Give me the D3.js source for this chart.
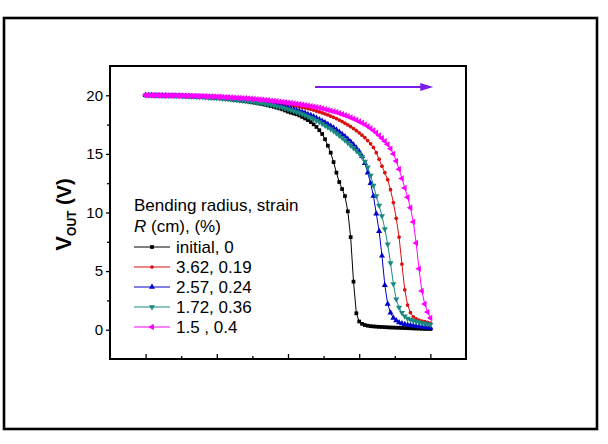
<!DOCTYPE html>
<html>
<head>
<meta charset="utf-8">
<script src="https://cdn.jsdelivr.net/npm/d3@7"></script>
<style>
  html, body { margin: 0; padding: 0; background: #fff; }
  svg { display: block; font-family: "Liberation Sans", Arial, sans-serif; }
</style>
</head>
<body>
<svg id="chart" width="608" height="444"></svg>
<script>
// ---- data (x = input voltage, 0..20 step 0.2) ----
const xStart = 0, xStep = 0.2;
const xTickValues = [0, 5, 10, 15, 20];
const yTickValues = [0, 5, 10, 15, 20];
const yTickLabels = ["0", "5", "10", "15", "20"];

const seriesNames = ["initial, 0", "3.62, 0.19", "2.57, 0.24", "1.72, 0.36", "1.5 , 0.4"];
const legendTitle1 = "Bending radius, strain";

const vInitial = [
  20.00, 20.00, 20.00, 19.99, 19.99, 19.98, 19.98, 19.97, 19.97, 19.96, 19.95,
  19.94, 19.93, 19.92, 19.91, 19.90, 19.89, 19.88, 19.87, 19.86, 19.85,
  19.84, 19.82, 19.81, 19.79, 19.77, 19.75, 19.73, 19.71, 19.68, 19.65,
  19.62, 19.59, 19.56, 19.53, 19.50, 19.47, 19.43, 19.39, 19.35, 19.30,
  19.25, 19.20, 19.14, 19.08, 19.02, 18.95, 18.88, 18.80, 18.70, 18.60,
  18.52, 18.45, 18.38, 18.28, 18.15, 18.02, 17.88, 17.72, 17.52, 17.30,
  17.02, 16.70, 16.25, 15.70, 15.10, 14.30, 13.40, 12.60, 12.00, 11.40,
  10.10, 7.90, 4.10, 1.40, 0.70, 0.50, 0.40, 0.34, 0.30, 0.28,
  0.26, 0.24, 0.23, 0.22, 0.20, 0.19, 0.18, 0.17, 0.16, 0.15,
  0.14, 0.13, 0.12, 0.11, 0.10, 0.09, 0.08, 0.07, 0.07, 0.06
];
const vR362 = [
  20.00, 20.00, 20.00, 20.00, 19.99, 19.99, 19.99, 19.98, 19.98, 19.98, 19.97,
  19.97, 19.96, 19.96, 19.95, 19.95, 19.94, 19.93, 19.92, 19.91, 19.90,
  19.89, 19.88, 19.87, 19.86, 19.84, 19.83, 19.81, 19.80, 19.78, 19.76,
  19.74, 19.72, 19.70, 19.68, 19.66, 19.64, 19.61, 19.59, 19.57, 19.54,
  19.51, 19.48, 19.45, 19.42, 19.39, 19.36, 19.32, 19.28, 19.24, 19.20,
  19.16, 19.12, 19.07, 19.03, 18.98, 18.93, 18.87, 18.81, 18.74, 18.66,
  18.58, 18.50, 18.41, 18.32, 18.22, 18.12, 18.01, 17.89, 17.76, 17.62,
  17.47, 17.32, 17.16, 16.99, 16.80, 16.60, 16.38, 16.14, 15.86, 15.55,
  15.10, 14.55, 13.95, 13.40, 12.80, 11.95, 10.85, 9.50, 7.90, 5.60,
  3.40, 2.10, 1.45, 1.10, 0.92, 0.82, 0.74, 0.68, 0.62, 0.56
];
const vR257 = [
  20.00, 20.00, 20.00, 19.99, 19.99, 19.99, 19.98, 19.98, 19.97, 19.97, 19.96,
  19.95, 19.95, 19.94, 19.93, 19.92, 19.91, 19.90, 19.89, 19.88, 19.87,
  19.86, 19.84, 19.83, 19.81, 19.80, 19.78, 19.76, 19.74, 19.72, 19.70,
  19.68, 19.65, 19.63, 19.60, 19.57, 19.54, 19.51, 19.48, 19.45, 19.41,
  19.37, 19.33, 19.29, 19.25, 19.21, 19.16, 19.11, 19.06, 19.00, 18.94,
  18.87, 18.80, 18.73, 18.65, 18.57, 18.48, 18.39, 18.29, 18.18, 18.06,
  17.94, 17.81, 17.67, 17.53, 17.38, 17.22, 17.05, 16.87, 16.68, 16.48,
  16.26, 16.03, 15.78, 15.50, 15.20, 14.80, 14.20, 13.40, 12.50, 11.40,
  9.90, 8.40, 6.30, 3.80, 2.20, 1.45, 1.00, 0.78, 0.62, 0.52,
  0.46, 0.41, 0.37, 0.33, 0.30, 0.27, 0.24, 0.21, 0.18, 0.15
];
const vR172 = [
  20.00, 20.00, 20.00, 19.99, 19.99, 19.98, 19.98, 19.97, 19.97, 19.96, 19.95,
  19.94, 19.94, 19.93, 19.92, 19.91, 19.90, 19.89, 19.87, 19.86, 19.85,
  19.83, 19.82, 19.80, 19.78, 19.77, 19.75, 19.73, 19.71, 19.68, 19.66,
  19.63, 19.61, 19.58, 19.55, 19.52, 19.49, 19.46, 19.42, 19.39, 19.35,
  19.31, 19.26, 19.22, 19.17, 19.12, 19.07, 19.01, 18.95, 18.88, 18.81,
  18.74, 18.66, 18.58, 18.49, 18.40, 18.30, 18.20, 18.09, 17.97, 17.85,
  17.72, 17.58, 17.43, 17.28, 17.12, 16.95, 16.77, 16.58, 16.38, 16.17,
  15.95, 15.72, 15.50, 15.28, 15.05, 14.75, 14.35, 13.85, 13.15, 12.30,
  11.40, 10.60, 9.70, 8.60, 7.30, 5.70, 3.90, 2.60, 1.90, 1.45,
  1.15, 0.95, 0.85, 0.77, 0.70, 0.64, 0.58, 0.53, 0.49, 0.45
];
const vR150 = [
  20.00, 20.00, 20.00, 20.00, 20.00, 19.99, 19.99, 19.99, 19.99, 19.98, 19.98,
  19.98, 19.97, 19.97, 19.96, 19.96, 19.95, 19.95, 19.94, 19.93, 19.92,
  19.92, 19.91, 19.90, 19.89, 19.88, 19.87, 19.86, 19.84, 19.83, 19.82,
  19.80, 19.79, 19.77, 19.75, 19.74, 19.72, 19.70, 19.68, 19.66, 19.64,
  19.62, 19.59, 19.57, 19.54, 19.52, 19.49, 19.46, 19.43, 19.40, 19.37,
  19.34, 19.31, 19.27, 19.24, 19.20, 19.16, 19.12, 19.07, 19.03, 18.98,
  18.93, 18.87, 18.81, 18.75, 18.69, 18.62, 18.55, 18.47, 18.39, 18.30,
  18.21, 18.11, 18.00, 17.89, 17.77, 17.64, 17.50, 17.35, 17.18, 17.00,
  16.80, 16.58, 16.34, 16.08, 15.80, 15.45, 15.00, 14.40, 13.70, 12.90,
  12.10, 11.30, 10.40, 9.20, 7.40, 5.20, 3.30, 2.20, 1.50, 1.00
];

const seriesValues = [vInitial, vR362, vR257, vR172, vR150];
const seriesColors = ["#000000", "#d81010", "#0000cc", "#1a8a80", "#ff00ff"];
const seriesSymbols = ["square", "circle", "triUp", "triDown", "triLeft"];

// arrow (data coords)
const arrowX = [11.9, 20.2];
const arrowY = 20.7;

// ---- layout ----
const svg = d3.select("#chart");
const plot = { left: 110, right: 466, top: 66, bottom: 359 };

const x = d3.scaleLinear().domain([-2.5, 22.5]).range([plot.left, plot.right]);
const y = d3.scaleLinear().domain([-2.5, 22.5]).range([plot.bottom, plot.top]);

// outer frame
svg.append("rect").attr("x", 4).attr("y", 18).attr("width", 593).attr("height", 411)
  .attr("fill", "none").attr("stroke", "#000").attr("stroke-width", 2.6);

// symbol generators
function symbolPath(kind) {
  switch (kind) {
    case "square": return d3.symbol(d3.symbolSquare, 14)();
    case "circle": return d3.symbol(d3.symbolCircle, 11)();
    case "triUp": return d3.symbol(d3.symbolTriangle, 16)();
    case "triDown": return d3.symbol(d3.symbolTriangle, 16)();
    case "triLeft": return d3.symbol(d3.symbolTriangle, 18)();
  }
}
function symbolRot(kind) {
  if (kind === "triDown") return 180;
  if (kind === "triLeft") return -90;
  return 0;
}

// series
const line = d3.line().x(d => x(d[0])).y(d => y(d[1]));
seriesValues.forEach((vals, i) => {
  const pts = vals.map((v, j) => [xStart + j * xStep, v]);
  const g = svg.append("g");
  g.append("path").attr("d", line(pts)).attr("fill", "none")
    .attr("stroke", seriesColors[i]).attr("stroke-width", 1);
  g.selectAll("path.m").data(pts).enter().append("path").attr("class", "m")
    .attr("d", symbolPath(seriesSymbols[i]))
    .attr("transform", d => `translate(${x(d[0])},${y(d[1])}) rotate(${symbolRot(seriesSymbols[i])})`)
    .attr("fill", seriesColors[i]);
});

// axes
const yAxis = d3.axisLeft(y).tickValues(yTickValues).tickFormat((d, i) => yTickLabels[i])
  .tickSize(4).tickPadding(3);
const yMinor = d3.axisLeft(y).tickValues([2.5, 7.5, 12.5, 17.5]).tickFormat("").tickSize(3);
const xAxis = d3.axisBottom(x).tickValues(xTickValues).tickFormat("").tickSize(-5);
const xMinor = d3.axisBottom(x).tickValues([2.5, 7.5, 12.5, 17.5]).tickFormat("").tickSize(-3);

function styleAxis(g) {
  g.select(".domain").remove();
  g.selectAll(".tick line").attr("stroke", "#000").attr("stroke-width", 1.3);
  g.selectAll(".tick text").attr("fill", "#000").style("font-size", "15px")
    .style("font-family", "'Liberation Sans', Arial, sans-serif");
}
svg.append("g").attr("transform", `translate(${plot.left},0)`).call(yAxis).call(styleAxis);
svg.append("g").attr("transform", `translate(${plot.left},0)`).call(yMinor).call(styleAxis);
svg.append("g").attr("transform", `translate(0,${plot.bottom})`).call(xAxis).call(styleAxis);
svg.append("g").attr("transform", `translate(0,${plot.bottom})`).call(xMinor).call(styleAxis);

// plot frame
svg.append("rect").attr("x", plot.left).attr("y", plot.top)
  .attr("width", plot.right - plot.left).attr("height", plot.bottom - plot.top)
  .attr("fill", "none").attr("stroke", "#000").attr("stroke-width", 2);

// y label
const yl = svg.append("text")
  .attr("transform", `translate(71,${(plot.top + plot.bottom) / 2 + 2}) rotate(-90)`)
  .attr("text-anchor", "middle")
  .style("font-size", "20px").style("font-weight", "bold").attr("fill", "#000");
yl.append("tspan").text("V").style("font-size", "22px");
yl.append("tspan").text("OUT").style("font-size", "12px").attr("dy", 5);
yl.append("tspan").text(" (V)").attr("dy", -5);

// arrow
const arrowColor = "#7a1cf0";
svg.append("line").attr("x1", x(arrowX[0])).attr("x2", x(arrowX[1]) - 8)
  .attr("y1", y(arrowY)).attr("y2", y(arrowY))
  .attr("stroke", arrowColor).attr("stroke-width", 2);
svg.append("path")
  .attr("d", `M${x(arrowX[1])},${y(arrowY)} L${x(arrowX[1]) - 13},${y(arrowY) - 4} L${x(arrowX[1]) - 13},${y(arrowY) + 4} Z`)
  .attr("fill", arrowColor);

// legend
const lg = svg.append("g").style("font-size", "17px").attr("fill", "#000");
lg.append("text").attr("x", 134).attr("y", 211).text(legendTitle1);
const t2 = lg.append("text").attr("x", 134).attr("y", 232);
t2.append("tspan").text("R").style("font-style", "italic");
t2.append("tspan").text(" (cm), (%)");
seriesNames.forEach((name, i) => {
  const cy = 247 + i * 20;
  lg.append("line").attr("x1", 134).attr("x2", 170).attr("y1", cy).attr("y2", cy)
    .attr("stroke", seriesColors[i]).attr("stroke-width", 1);
  lg.append("path").attr("d", symbolPath(seriesSymbols[i]))
    .attr("transform", `translate(152,${cy}) rotate(${symbolRot(seriesSymbols[i])})`)
    .attr("fill", seriesColors[i]);
  lg.append("text").attr("x", 176).attr("y", cy + 6).text(name);
});
</script>
</body>
</html>
